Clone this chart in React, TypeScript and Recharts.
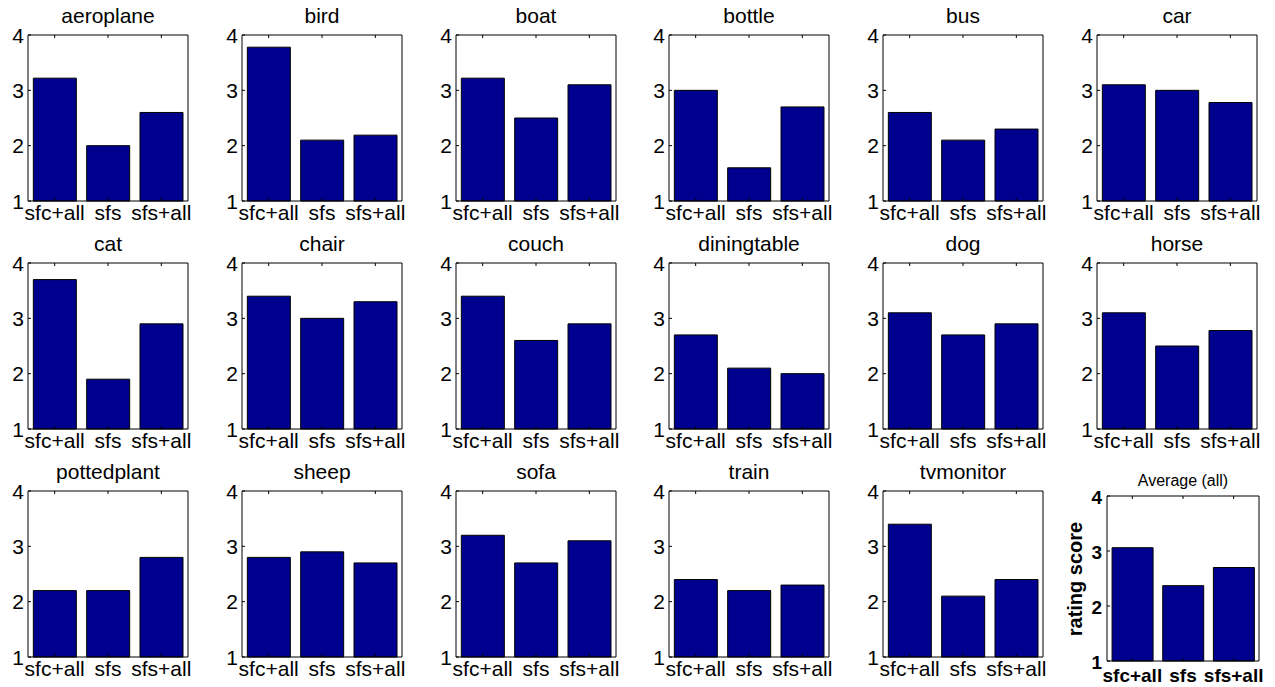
import { BarChart, Bar, XAxis, YAxis } from "recharts";

// categories on every x axis
const CATS = ["sfc+all", "sfs", "sfs+all"];
const Y_TICKS = [1, 2, 3, 4];

// rating scores per class (sfc+all, sfs, sfs+all)
const aeroplane = [3.22, 2.0, 2.6];
const bird = [3.78, 2.1, 2.19];
const boat = [3.22, 2.5, 3.1];
const bottle = [3.0, 1.6, 2.7];
const bus = [2.6, 2.1, 2.3];
const car = [3.1, 3.0, 2.78];
const cat = [3.7, 1.9, 2.9];
const chair = [3.4, 3.0, 3.3];
const couch = [3.4, 2.6, 2.9];
const diningtable = [2.7, 2.1, 2.0];
const dog = [3.1, 2.7, 2.9];
const horse = [3.1, 2.5, 2.78];
const pottedplant = [2.2, 2.2, 2.8];
const sheep = [2.8, 2.9, 2.7];
const sofa = [3.2, 2.7, 3.1];
const train = [2.4, 2.2, 2.3];
const tvmonitor = [3.4, 2.1, 2.4];
const average = [3.06, 2.37, 2.7];

const PANELS: [string, number[]][] = [
  ["aeroplane", aeroplane], ["bird", bird], ["boat", boat],
  ["bottle", bottle], ["bus", bus], ["car", car],
  ["cat", cat], ["chair", chair], ["couch", couch],
  ["diningtable", diningtable], ["dog", dog], ["horse", horse],
  ["pottedplant", pottedplant], ["sheep", sheep], ["sofa", sofa],
  ["train", train], ["tvmonitor", tvmonitor],
];

const FONT = '"Liberation Sans", Arial, Helvetica, sans-serif';
const COL_X = [28, 242, 456, 669, 883, 1097];
const ROW_Y = [35, 263, 491];
const BOX_W = 160;
const BOX_H = 166;
const TICK = 3;
const AX = 1; // thickness reserved by each axis

type PanelProps = {
  title: string;
  values: number[];
  left: number;
  top: number;
  w: number;
  h: number;
  avg?: boolean;
};

function Panel({ title, values, left, top, w, h, avg }: PanelProps) {
  const mL = avg ? 50 : 40;
  const mR = 10;
  const mT = 40;
  const mB = 32;
  const data = CATS.map((c, i) => ({ cat: c, score: values[i] }));
  const fs = avg ? 19 : 21;
  const fw = avg ? "bold" : "normal";

  return (
    <>
      <div
        style={{
          position: "absolute",
          left,
          top: avg ? top - 23.5 : top - 30,
          width: w,
          textAlign: "center",
          fontFamily: FONT,
          fontSize: avg ? 16 : 21,
          lineHeight: avg ? "16px" : "21px",
          color: "#000",
          whiteSpace: "nowrap",
        }}
      >
        {title}
      </div>
      <div style={{ position: "absolute", left: left - mL, top: top - mT }}>
        <BarChart
          width={w + mL + mR}
          height={h + mT + mB}
          data={data}
          margin={{ top: mT - AX, right: mR - AX, bottom: mB - AX, left: mL - AX }}
          barCategoryGap="10%"
        >
          <XAxis
            dataKey="cat"
            xAxisId="b"
            orientation="bottom"
            height={AX}
            tickSize={0}
            tickMargin={0}
            interval={0}
            axisLine={{ stroke: "#000" }}
            tickLine={false}
            tick={(p: any) => (
              <g>
                <line x1={p.x} x2={p.x} y1={p.y} y2={p.y - TICK} stroke="#000" />
                <text
                  x={p.x}
                  y={p.y + (avg ? 21 : 19)}
                  textAnchor="middle"
                  fontSize={fs}
                  fontWeight={fw}
                  fontFamily={FONT}
                  fill="#000"
                >
                  {p.payload.value}
                </text>
              </g>
            )}
          />
          <XAxis
            dataKey="cat"
            xAxisId="t"
            orientation="top"
            height={AX}
            tickSize={0}
            tickMargin={0}
            interval={0}
            axisLine={{ stroke: "#000" }}
            tickLine={false}
            tick={(p: any) => (
              <line x1={p.x} x2={p.x} y1={p.y} y2={p.y + TICK} stroke="#000" />
            )}
          />
          <YAxis
            yAxisId="l"
            orientation="left"
            type="number"
            domain={[1, 4]}
            ticks={Y_TICKS}
            width={AX}
            tickSize={0}
            tickMargin={0}
            interval={0}
            axisLine={{ stroke: "#000" }}
            tickLine={false}
            tick={(p: any) => (
              <g>
                <line x1={p.x} x2={p.x + TICK} y1={p.y} y2={p.y} stroke="#000" />
                <text
                  x={p.x - (avg ? 5 : 4)}
                  y={p.y + 7.5}
                  textAnchor="end"
                  fontSize={fs}
                  fontWeight={fw}
                  fontFamily={FONT}
                  fill="#000"
                >
                  {p.payload.value}
                </text>
              </g>
            )}
          />
          <YAxis
            yAxisId="r"
            orientation="right"
            type="number"
            domain={[1, 4]}
            ticks={Y_TICKS}
            width={AX}
            tickSize={0}
            tickMargin={0}
            interval={0}
            axisLine={{ stroke: "#000" }}
            tickLine={false}
            tick={(p: any) => (
              <line x1={p.x} x2={p.x - TICK} y1={p.y} y2={p.y} stroke="#000" />
            )}
          />
          <Bar
            dataKey="score"
            xAxisId="b"
            yAxisId="l"
            fill="#00008F"
            stroke="#000"
            strokeWidth={1}
            isAnimationActive={false}
          />
        </BarChart>
      </div>
    </>
  );
}

export default function App() {
  return (
    <div
      style={{
        position: "absolute",
        left: 0,
        top: 0,
        width: 1275,
        height: 687,
        background: "#fff",
        overflow: "hidden",
      }}
    >
      {PANELS.map(([name, vals], i) => (
        <Panel
          key={name}
          title={name}
          values={vals}
          left={COL_X[i % 6]}
          top={ROW_Y[Math.floor(i / 6)]}
          w={BOX_W}
          h={BOX_H}
        />
      ))}
      <Panel title="Average (all)" values={average} left={1107} top={496} w={152} h={165} avg />
      <div
        style={{
          position: "absolute",
          left: 1075 - 100,
          top: 579 - 10,
          width: 200,
          lineHeight: "20px",
          textAlign: "center",
          fontFamily: FONT,
          fontSize: 20,
          fontWeight: "bold",
          transform: "rotate(-90deg)",
          color: "#000",
        }}
      >
        rating score
      </div>
    </div>
  );
}
